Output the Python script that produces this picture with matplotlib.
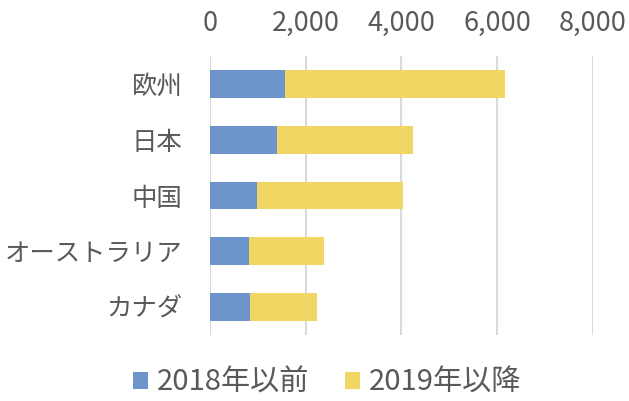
import matplotlib
matplotlib.use("Agg")
import matplotlib.pyplot as plt
from matplotlib.patches import Patch
from matplotlib.ticker import FuncFormatter

plt.rcParams['font.family'] = ['Noto Sans CJK JP', 'DejaVu Sans']

categories = ["欧州", "日本", "中国", "オーストラリア", "カナダ"]
before_2018 = [1560, 1390, 980, 810, 830]
after_2019 = [4600, 2840, 3060, 1580, 1400]
series_names = ["2018年以前", "2019年以降"]
xticks = [0, 2000, 4000, 6000, 8000]

blue = '#6D95CC'
yellow = '#F2D664'
text_col = '#595959'
grid_col = '#D9D9D9'

fig = plt.figure(figsize=(6.29, 4.01), dpi=100)
ax = fig.add_axes([210/629, 1 - 335/401, (593-210)/629, (335-56)/401])

y = list(range(len(categories)))
ax.barh(y, before_2018, height=0.5, color=blue, label=series_names[0], zorder=3)
ax.barh(y, after_2019, left=before_2018, height=0.5, color=yellow, label=series_names[1], zorder=3)

ax.set_ylim(len(categories) - 0.5, -0.5)
ax.set_yticks(y)
ax.set_yticklabels(categories, fontsize=18.3, color=text_col)
ax.set_xlim(0, 8000)
ax.set_xticks(xticks)
ax.xaxis.set_major_formatter(FuncFormatter(lambda v, p: f"{int(v):,}"))
ax.xaxis.tick_top()
ax.tick_params(axis='x', length=0, pad=14, labelsize=19.5, labelcolor=text_col)
ax.tick_params(axis='y', length=0, pad=20)
for s in ax.spines.values():
    s.set_visible(False)
ax.grid(axis='x', color=grid_col, linewidth=1.5, zorder=0)
ax.set_axisbelow(True)

handles = [Patch(facecolor=blue, edgecolor='none'), Patch(facecolor=yellow, edgecolor='none')]
leg = fig.legend(handles, series_names, loc='center', bbox_to_anchor=(0.52, 0.045),
                 ncol=2, frameon=False, fontsize=21, handlelength=0.52, handleheight=0.52,
                 handletextpad=0.32, columnspacing=1.2, borderpad=0)
for t in leg.get_texts():
    t.set_color(text_col)

fig.savefig("out.png", dpi=100)
